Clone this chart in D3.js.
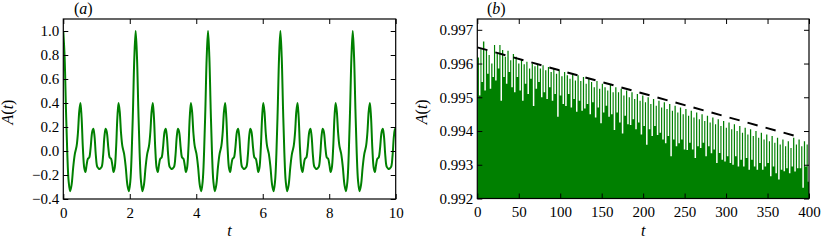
<!DOCTYPE html>
<html>
<head>
<meta charset="utf-8">
<script src="https://cdn.jsdelivr.net/npm/d3@7"></script>
<style>
  body { margin: 0; background: #fff; }
  svg { display: block; font-family: 'Liberation Serif', serif; }
  .tick line { stroke: #000; stroke-width: 1; }
  .tick text { fill: #000; font-size: 15px; font-family: 'Liberation Serif', serif; }
</style>
</head>
<body>
<div id="chart"></div>
<script>
// ---- panel (a): A(t) for t in [0, 10] ----
const curveT = [
  0, 0.04, 0.08, 0.12, 0.16, 0.205, 0.25, 0.30, 0.35, 0.40, 0.44, 0.48, 0.515, 0.55, 0.59, 0.63, 0.665, 0.70, 0.74, 0.78, 0.82, 0.87, 0.905, 0.94, 0.98, 1.02, 1.06, 1.089, 1.117, 1.157, 1.197, 1.237, 1.272, 1.307, 1.357, 1.397, 1.437, 1.477, 1.512, 1.547, 1.587, 1.627, 1.662, 1.697, 1.737, 1.777, 1.827, 1.877, 1.927, 1.972, 2.017, 2.057, 2.097, 2.137,
  2.177, 2.217, 2.257, 2.297, 2.337, 2.382, 2.427, 2.477, 2.527, 2.577, 2.617, 2.657, 2.692, 2.727, 2.767, 2.807, 2.842, 2.877, 2.917, 2.957, 2.997, 3.047, 3.082, 3.117, 3.157, 3.197, 3.237, 3.266, 3.294, 3.334, 3.374, 3.414, 3.449, 3.484, 3.534, 3.574, 3.614, 3.654, 3.689, 3.724, 3.764, 3.804, 3.839, 3.874, 3.914, 3.954, 4.004, 4.054, 4.104, 4.149, 4.194, 4.234, 4.274, 4.314,
  4.354, 4.394, 4.434, 4.474, 4.514, 4.559, 4.604, 4.654, 4.704, 4.754, 4.794, 4.834, 4.869, 4.904, 4.944, 4.984, 5.019, 5.054, 5.094, 5.134, 5.174, 5.224, 5.259, 5.294, 5.334, 5.374, 5.414, 5.443, 5.471, 5.511, 5.551, 5.591, 5.626, 5.661, 5.711, 5.751, 5.791, 5.831, 5.866, 5.901, 5.941, 5.981, 6.016, 6.051, 6.091, 6.131, 6.181, 6.231, 6.281, 6.326, 6.371, 6.411, 6.451, 6.491,
  6.531, 6.571, 6.611, 6.651, 6.691, 6.736, 6.781, 6.831, 6.881, 6.931, 6.971, 7.011, 7.046, 7.081, 7.121, 7.161, 7.196, 7.231, 7.271, 7.311, 7.351, 7.401, 7.436, 7.471, 7.511, 7.551, 7.591, 7.620, 7.648, 7.688, 7.728, 7.768, 7.803, 7.838, 7.888, 7.928, 7.968, 8.008, 8.043, 8.078, 8.118, 8.158, 8.193, 8.228, 8.268, 8.308, 8.358, 8.408, 8.458, 8.503, 8.548, 8.588, 8.628, 8.668,
  8.708, 8.748, 8.788, 8.828, 8.868, 8.913, 8.958, 9.008, 9.058, 9.108, 9.148, 9.188, 9.223, 9.258, 9.298, 9.338, 9.373, 9.408, 9.448, 9.488, 9.528, 9.578, 9.613, 9.648, 9.688, 9.728, 9.768, 9.797, 9.825, 9.865, 9.905, 9.945, 9.980, 10.0
];
const curveA = [
  1.000, 0.780, 0.350, -0.020, -0.250, -0.335, -0.280, -0.130, -0.020, 0.040, 0.150, 0.330, 0.400, 0.280, 0.020, -0.140, -0.175, -0.120, -0.065, -0.055, 0.020, 0.160, 0.185, 0.120, -0.040, -0.130, -0.145, -0.150, -0.145, -0.130, -0.040, 0.120, 0.185, 0.160, 0.020, -0.055, -0.065, -0.120, -0.175, -0.140, 0.020, 0.280, 0.400, 0.330, 0.150, 0.040, -0.020, -0.130, -0.280, -0.335, -0.250, -0.020, 0.350, 0.780,
  1.000, 0.780, 0.350, -0.020, -0.250, -0.335, -0.280, -0.130, -0.020, 0.040, 0.150, 0.330, 0.400, 0.280, 0.020, -0.140, -0.175, -0.120, -0.065, -0.055, 0.020, 0.160, 0.185, 0.120, -0.040, -0.130, -0.145, -0.150, -0.145, -0.130, -0.040, 0.120, 0.185, 0.160, 0.020, -0.055, -0.065, -0.120, -0.175, -0.140, 0.020, 0.280, 0.400, 0.330, 0.150, 0.040, -0.020, -0.130, -0.280, -0.335, -0.250, -0.020, 0.350, 0.780,
  1.000, 0.780, 0.350, -0.020, -0.250, -0.335, -0.280, -0.130, -0.020, 0.040, 0.150, 0.330, 0.400, 0.280, 0.020, -0.140, -0.175, -0.120, -0.065, -0.055, 0.020, 0.160, 0.185, 0.120, -0.040, -0.130, -0.145, -0.150, -0.145, -0.130, -0.040, 0.120, 0.185, 0.160, 0.020, -0.055, -0.065, -0.120, -0.175, -0.140, 0.020, 0.280, 0.400, 0.330, 0.150, 0.040, -0.020, -0.130, -0.280, -0.335, -0.250, -0.020, 0.350, 0.780,
  1.000, 0.780, 0.350, -0.020, -0.250, -0.335, -0.280, -0.130, -0.020, 0.040, 0.150, 0.330, 0.400, 0.280, 0.020, -0.140, -0.175, -0.120, -0.065, -0.055, 0.020, 0.160, 0.185, 0.120, -0.040, -0.130, -0.145, -0.150, -0.145, -0.130, -0.040, 0.120, 0.185, 0.160, 0.020, -0.055, -0.065, -0.120, -0.175, -0.140, 0.020, 0.280, 0.400, 0.330, 0.150, 0.040, -0.020, -0.130, -0.280, -0.335, -0.250, -0.020, 0.350, 0.780,
  1.000, 0.780, 0.350, -0.020, -0.250, -0.335, -0.280, -0.130, -0.020, 0.040, 0.150, 0.330, 0.400, 0.280, 0.020, -0.140, -0.175, -0.120, -0.065, -0.055, 0.020, 0.160, 0.185, 0.120, -0.040, -0.130, -0.145, -0.150, -0.145, -0.130, -0.040, 0.120, 0.185, 0.175
];
const xTicksA = [0, 2, 4, 6, 8, 10];
const yTicksA = [-0.4, -0.2, 0.0, 0.2, 0.4, 0.6, 0.8, 1.0];

// ---- panel (b): long-time A(t); plateau tops with narrow dips ----
const firstTopB = 0.99618;
const dipT = [
  2.0, 5.0, 8.5, 11.8, 15.0, 18.3, 21.5, 24.8, 28.0, 31.3, 34.5, 37.8, 41.0, 44.3, 47.5, 50.8, 54.0, 57.3, 60.5, 63.8,
  67.0, 70.3, 73.5, 76.8, 80.0, 83.3, 86.5, 89.8, 93.0, 96.3, 99.5, 102.8, 106.0, 109.3, 112.5, 115.8, 119.0, 122.3, 125.5, 128.8,
  132.0, 135.3, 138.5, 141.8, 145.0, 148.3, 151.5, 154.8, 158.0, 161.3, 164.5, 167.8, 171.0, 174.3, 177.5, 180.8, 184.0, 187.3, 190.5, 193.8,
  197.0, 200.3, 203.5, 206.8, 210.0, 213.3, 216.5, 219.8, 223.0, 226.3, 229.5, 232.8, 236.0, 239.3, 242.5, 245.8, 249.0, 252.3, 255.5, 258.8,
  262.0, 265.3, 268.5, 271.8, 275.0, 278.3, 281.5, 284.8, 288.0, 291.3, 294.5, 297.8, 301.0, 304.3, 307.5, 310.8, 314.0, 317.3, 320.5, 323.8,
  327.0, 330.3, 333.5, 336.8, 340.0, 343.3, 346.5, 349.8, 353.0, 356.3, 359.5, 362.8, 366.0, 369.3, 372.5, 375.8, 379.0, 382.3, 385.5, 388.8,
  392.0, 395.3, 398.5
];
const dipA = [
  0.99505, 0.99545, 0.99520, 0.99570, 0.99525, 0.99560, 0.99550, 0.99585, 0.99490, 0.99560,
  0.99540, 0.99575, 0.99530, 0.99515, 0.99560, 0.99520, 0.99490, 0.99540, 0.99510, 0.99555,
  0.99474, 0.99525, 0.99545, 0.99500, 0.99515, 0.99495, 0.99530, 0.99490, 0.99510, 0.99442,
  0.99505, 0.99480, 0.99474, 0.99510, 0.99470, 0.99495, 0.99457, 0.99490, 0.99460, 0.99467,
  0.99480, 0.99450, 0.99485, 0.99440, 0.99470, 0.99423, 0.99455, 0.99475, 0.99442, 0.99450,
  0.99403, 0.99455, 0.99425, 0.99393, 0.99445, 0.99420, 0.99418, 0.99435, 0.99405, 0.99425,
  0.99390, 0.99415, 0.99359, 0.99405, 0.99385, 0.99415, 0.99388, 0.99395, 0.99375, 0.99364,
  0.99385, 0.99325, 0.99375, 0.99355, 0.99364, 0.99375, 0.99345, 0.99344, 0.99365, 0.99345,
  0.99320, 0.99355, 0.99350, 0.99365, 0.99325, 0.99355, 0.99334, 0.99345, 0.99305, 0.99335,
  0.99315, 0.99310, 0.99325, 0.99305, 0.99300, 0.99325, 0.99295, 0.99315, 0.99295, 0.99320,
  0.99285, 0.99315, 0.99295, 0.99285, 0.99305, 0.99285, 0.99295, 0.99305, 0.99266, 0.99295,
  0.99275, 0.99256, 0.99285, 0.99281, 0.99290, 0.99275, 0.99295, 0.99280, 0.99290, 0.99290,
  0.99232, 0.99295, 0.99250
];
const topA = [
  0.99645, 0.99665, 0.99640, 0.99625, 0.99600, 0.99655, 0.99630, 0.99655, 0.99640, 0.99620,
  0.99638, 0.99610, 0.99628, 0.99620, 0.99600, 0.99612, 0.99598, 0.99605, 0.99585, 0.99600,
  0.99592, 0.99598, 0.99585, 0.99595, 0.99580, 0.99590, 0.99575, 0.99585, 0.99570, 0.99580,
  0.99562, 0.99575, 0.99565, 0.99555, 0.99570, 0.99550, 0.99565, 0.99548, 0.99560, 0.99540,
  0.99555, 0.99545, 0.99530, 0.99548, 0.99525, 0.99540, 0.99530, 0.99520, 0.99538, 0.99515,
  0.99530, 0.99515, 0.99525, 0.99505, 0.99520, 0.99500, 0.99515, 0.99495, 0.99510, 0.99490,
  0.99505, 0.99485, 0.99500, 0.99480, 0.99495, 0.99475, 0.99490, 0.99470, 0.99485, 0.99465,
  0.99480, 0.99460, 0.99475, 0.99455, 0.99470, 0.99450, 0.99465, 0.99445, 0.99460, 0.99440,
  0.99455, 0.99435, 0.99450, 0.99430, 0.99445, 0.99425, 0.99440, 0.99420, 0.99435, 0.99415,
  0.99430, 0.99410, 0.99425, 0.99405, 0.99420, 0.99400, 0.99415, 0.99395, 0.99410, 0.99390,
  0.99405, 0.99385, 0.99400, 0.99380, 0.99395, 0.99375, 0.99390, 0.99370, 0.99385, 0.99365,
  0.99380, 0.99360, 0.99375, 0.99355, 0.99370, 0.99350, 0.99380, 0.99360, 0.99375, 0.99355,
  0.99370, 0.99360, 0.99385
];
const fitT = [0, 390];
const fitA = [0.99648, 0.99381];
const xTicksB = [0, 50, 100, 150, 200, 250, 300, 350, 400];
const yTicksB = [0.992, 0.993, 0.994, 0.995, 0.996, 0.997];

const GREEN = '#008000';
const W = 822, H = 242;

const svg = d3.select('#chart').append('svg')
  .attr('width', W)
  .attr('height', H);

/**
 * Draw an axes box with inward ticks on all four sides.
 * Returns the scales and a clipped group for the data.
 */
function makePanel(opts) {
  const { left, right, top, bottom, xDomain, yDomain, xTicks, yTicks, xFmt, yFmt, id, tag, tagX } = opts;

  const x = d3.scaleLinear().domain(xDomain).range([left, right]);
  const y = d3.scaleLinear().domain(yDomain).range([bottom, top]);

  svg.append('clipPath').attr('id', id)
    .append('rect')
    .attr('x', left).attr('y', top)
    .attr('width', right - left).attr('height', bottom - top);

  const plot = svg.append('g').attr('clip-path', `url(#${id})`);

  const tick = 5;
  const axes = [
    [d3.axisBottom(x).tickValues(xTicks).tickFormat(xFmt).tickSize(-tick).tickPadding(8), `translate(0,${bottom})`],
    [d3.axisTop(x).tickValues(xTicks).tickFormat('').tickSize(-tick), `translate(0,${top})`],
    [d3.axisLeft(y).tickValues(yTicks).tickFormat(yFmt).tickSize(-tick).tickPadding(4), `translate(${left},0)`],
    [d3.axisRight(y).tickValues(yTicks).tickFormat('').tickSize(-tick), `translate(${right},0)`]
  ];

  axes.forEach(([axis, tr]) => {
    const g = svg.append('g').attr('transform', tr).call(axis);
    g.attr('font-family', null).attr('font-size', null);
    g.select('.domain').remove();
  });

  // frame
  svg.append('rect')
    .attr('x', left).attr('y', top)
    .attr('width', right - left).attr('height', bottom - top)
    .attr('fill', 'none')
    .attr('stroke', '#000')
    .attr('stroke-width', 1.2);

  // panel tag, e.g. (a)
  const t = svg.append('text')
    .attr('x', tagX).attr('y', 14)
    .attr('font-size', 16);
  t.append('tspan').text('(');
  t.append('tspan').attr('font-style', 'italic').text(tag);
  t.append('tspan').text(')');

  // y label A(t)
  const yl = svg.append('text')
    .attr('transform', `translate(${left - 50},${(top + bottom) / 2 + 3}) rotate(-90)`)
    .attr('text-anchor', 'middle')
    .attr('font-size', 16);
  yl.append('tspan').attr('font-style', 'italic').text('A');
  yl.append('tspan').text('(');
  yl.append('tspan').attr('font-style', 'italic').text('t');
  yl.append('tspan').text(')');

  // x label t
  svg.append('text')
    .attr('x', (left + right) / 2).attr('y', 236)
    .attr('text-anchor', 'middle')
    .attr('font-size', 16)
    .attr('font-style', 'italic')
    .text('t');

  return { x, y, plot };
}

// ---- panel (a) ----
const pa = makePanel({
  left: 63.3, right: 395.7, top: 19, bottom: 199,
  xDomain: [0, 10], yDomain: [-0.4, 1.1],
  xTicks: xTicksA, yTicks: yTicksA,
  xFmt: d3.format('d'), yFmt: d3.format('.1f'),
  id: 'clip-a', tag: 'a', tagX: 74
});

const seriesA = curveT.map((t, i) => ({ t, a: curveA[i] }));
pa.plot.append('path')
  .datum(seriesA)
  .attr('fill', 'none')
  .attr('stroke', GREEN)
  .attr('stroke-width', 2)
  .attr('stroke-linejoin', 'round')
  .attr('d', d3.line()
    .x(d => pa.x(d.t))
    .y(d => pa.y(d.a))
    .curve(d3.curveCatmullRom.alpha(0.5)));

// ---- panel (b) ----
const pb = makePanel({
  left: 477.3, right: 809, top: 19, bottom: 198.5,
  xDomain: [0, 400], yDomain: [0.992, 0.99732],
  xTicks: xTicksB, yTicks: yTicksB,
  xFmt: d3.format('d'), yFmt: d3.format('.3f'),
  id: 'clip-b', tag: 'b', tagX: 487
});

// step profile: plateau, narrow dip, plateau ...
const dipWidth = 1.8;
const stepsB = [{ t: 0, a: firstTopB }];
dipT.forEach((t, i) => {
  stepsB.push({ t, a: dipA[i] });
  stepsB.push({ t: t + dipWidth, a: topA[i] });
});
stepsB.push({ t: 400, a: topA[topA.length - 1] });

pb.plot.append('path')
  .datum(stepsB)
  .attr('fill', GREEN)
  .attr('stroke', 'none')
  .attr('d', d3.area()
    .x(d => pb.x(d.t))
    .y0(pb.y(0.992))
    .y1(d => pb.y(d.a))
    .curve(d3.curveStepAfter));

const fitLine = fitT.map((t, i) => ({ t, a: fitA[i] }));
pb.plot.append('path')
  .datum(fitLine)
  .attr('fill', 'none')
  .attr('stroke', '#000')
  .attr('stroke-width', 2)
  .attr('stroke-dasharray', '10.5,8.2')
  .attr('d', d3.line().x(d => pb.x(d.t)).y(d => pb.y(d.a)));
</script>
</body>
</html>
